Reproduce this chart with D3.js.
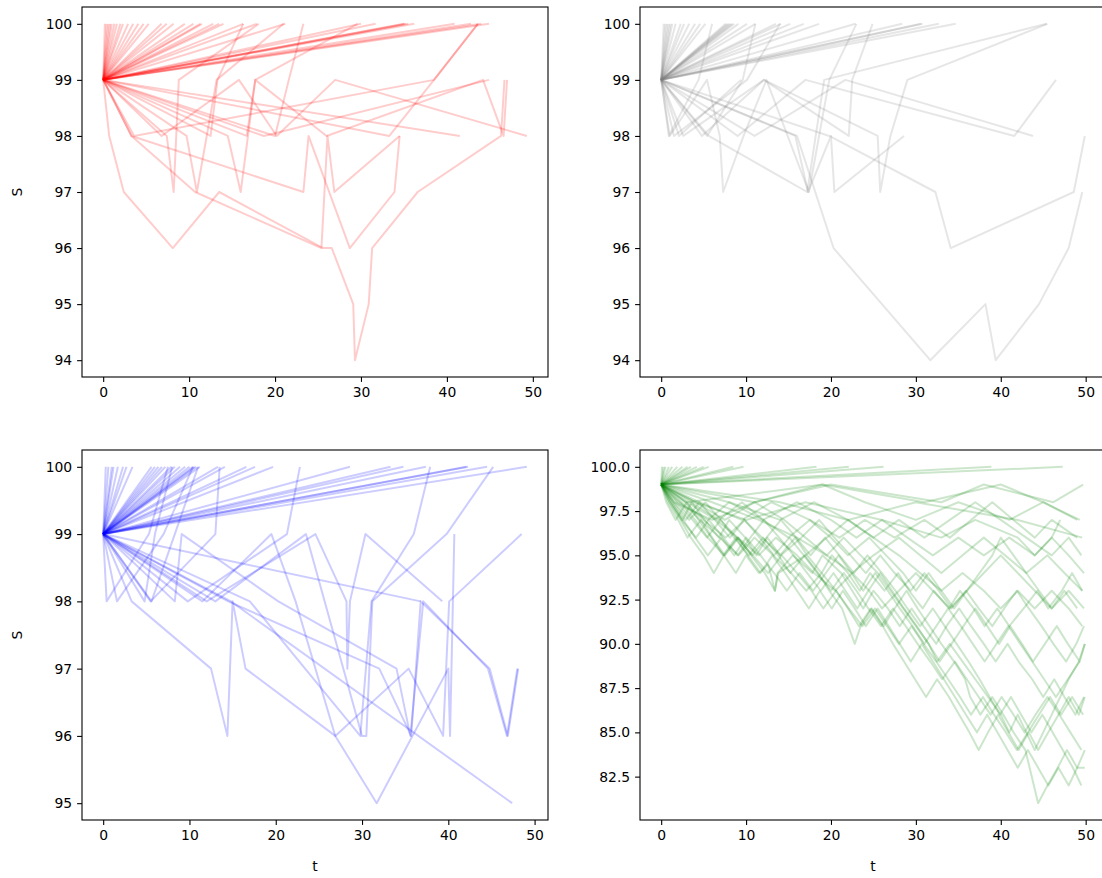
<!DOCTYPE html>
<html>
<head>
<meta charset="utf-8">
<script src="https://cdn.jsdelivr.net/npm/d3@7/dist/d3.min.js"></script>
<style>
  html, body { margin: 0; padding: 0; background: #fff; }
  svg { display: block; }
  text { font-family: "DejaVu Sans", sans-serif; }
</style>
</head>
<body>
<svg id="chart" width="1102" height="878"></svg>
<script>
// ---------------- DATA ----------------
const xTicks = [0, 10, 20, 30, 40, 50];
const yTicksTop = [94, 95, 96, 97, 98, 99, 100];
const yTicksBlue = [95, 96, 97, 98, 99, 100];
const yTicksGreen = [82.5, 85, 87.5, 90, 92.5, 95, 97.5, 100];

// single up-jump paths (0,99) -> (t,100): jump times
const redUpTimes = [0.2,0.4,0.6,0.8,1.0,1.3,1.6,2.0,2.3,2.9,3.5,4.1,4.7,5.3,6.8,7.4,8.2,9.5,10.5,11.3,11.5,12.8,13.5,14.0,16.3,17.9,21.2,30.0,31.7,35.0,35.2,35.5,36.2,40.9,42.8,44.0,44.9];
const greyUpTimes = [0.3,0.5,0.7,0.9,1.1,1.3,1.7,2.3,2.7,3.3,4.0,4.6,5.2,7.6,7.8,8.0,8.2,8.4,8.6,9.1,10.1,11.1,13.5,14.1,15.2,16.8,18.6,22.9,28.4,30.6,30.8,32.7,34.7];
const blueUpTimes = [0.3,0.6,1.0,1.2,1.7,2.3,2.7,3.4,5.6,6.0,6.4,6.8,7.2,7.9,8.3,8.9,9.5,10.0,10.4,10.6,10.8,11.2,13.3,14.1,16.6,17.6,19.7,28.6,33.3,34.8,37.4,42.1,42.3,44.5,49.1];
const greenUpTimes = [0.1,0.3,0.5,0.9,1.3,1.9,2.5,3.1,3.5,4.2,5.0,5.6,8.5,9.7,18.3,22.1,26.2,38.9,47.3];

// multi-step paths, [t, S] points
const redPaths = [
  [[0,99],[41.5,98]],
  [[0,99],[33.3,98],[38.5,99],[43.6,100]],
  [[0,99],[20.0,98],[21.6,99],[23.3,100]],
  [[0,99],[16.7,98],[17.7,99],[26.0,98],[44.2,99],[46.6,98],[47.0,99]],
  [[0,99],[12.5,98],[13.3,99],[16.3,100]],
  [[0,99],[3.3,98],[10.7,97],[25.4,96],[26.1,98],[26.9,97],[34.5,98]],
  [[0,99],[0.7,98],[2.4,97],[8.1,96],[13.5,97],[25.6,96],[26.6,96],[29.1,95],[29.3,94],[30.9,95],[31.3,96],[36.6,97],[46.3,98],[46.7,99]],
  [[0,99],[3.3,98],[23.3,97],[23.9,98],[28.7,96],[33.9,97],[34.5,98]],
  [[0,99],[7.4,98],[8.2,97],[8.8,99],[18.1,100]],
  [[0,99],[9.7,98],[10.9,97],[13.2,99],[21.0,100]],
  [[0,99],[14.5,98],[16.0,97],[17.7,99],[29.6,100]],
  [[0,99],[6.8,98],[15.8,99],[20.2,98],[27.0,99],[49.3,98]],
  [[0,99],[3.6,98],[38.5,99],[43.6,100]],
  [[0,99],[18.7,98],[44.9,99]]
];
const greyPaths = [
  [[0,99],[16.0,98],[20.3,96],[31.7,94],[38.2,95],[39.4,94],[44.5,95],[48.0,96],[49.6,97]],
  [[0,99],[15.8,98],[17.3,97],[20.0,98],[20.4,97],[28.6,98]],
  [[0,99],[1.0,98],[5.4,99],[6.9,98],[7.3,97],[9.7,98],[12.4,99],[17.4,97],[19.8,99],[23.0,100]],
  [[0,99],[2.1,98],[9.4,99]],
  [[0,99],[1.5,98],[10.1,99],[14.0,100]],
  [[0,99],[5.6,98],[17.2,97],[19.2,99],[45.4,100]],
  [[0,99],[2.6,98],[12.1,99],[25.5,98],[25.8,97],[27.0,98],[29.0,99],[45.5,100]],
  [[0,99],[4.8,98],[12.1,99],[22.1,98],[22.5,99],[24.9,100]],
  [[0,99],[9.0,98],[17.0,99],[41.6,98],[46.5,99]],
  [[0,99],[11.0,98],[21.7,99],[43.8,98]],
  [[0,99],[19.8,98],[32.3,97],[34.1,96],[48.6,97],[49.9,98]],
  [[0,99],[0.9,98],[4.4,99],[6.0,100]],
  [[0,99],[5.4,98],[9.6,99],[11.1,100]]
];
const bluePaths = [
  [[0,99],[3.3,98],[12.5,97],[14.4,96],[15.0,98],[16.5,97],[26.9,96],[35.4,97],[39.4,96],[40.1,98],[48.5,99]],
  [[0,99],[8.3,98],[9.1,99],[20.3,98],[34.0,97],[35.6,96],[37.1,98],[44.6,97],[46.8,96],[48.0,97]],
  [[0,99],[9.8,98],[21.3,99],[22.8,100]],
  [[0,99],[11.5,98],[19.5,99],[22.3,98],[26.9,96],[31.7,95],[40.0,97],[40.2,96],[40.7,99]],
  [[0,99],[12.0,98],[24.6,99],[28.2,98],[28.3,97],[28.6,98],[30.4,99],[39.3,98]],
  [[0,99],[13.0,98],[23.5,99],[30.0,96],[30.5,96],[31.2,98],[39.8,99],[45.2,100]],
  [[0,99],[14.5,98],[32.0,97],[35.7,96],[36.8,98],[44.8,97],[46.9,96],[48.1,97]],
  [[0,99],[36.8,98]],
  [[0,99],[5.5,98],[13.0,99],[13.5,100]],
  [[0,99],[1.6,98],[7.0,99],[10.4,100]],
  [[0,99],[0.4,98],[5.3,99],[7.5,100]],
  [[0,99],[4.8,98],[6.0,99],[8.0,100]],
  [[0,99],[5.6,98],[8.3,99],[11.0,100]],
  [[0,99],[17.0,98],[29.8,96],[31.1,98],[36.0,99],[37.9,100]],
  [[0,99],[14.8,98],[47.4,95]]
];
// green paths as flat t,S sequences
const greenPaths = [
  [0,99, 11,98, 20,99, 33,98, 38,99, 46.2,98, 49.7,99],
  [0,99, 3,98, 19,99, 31,98, 40,99, 45,98, 49,97],
  [0,99, 14,98, 22,97, 30,98, 42,97, 49.6,96],
  [0,99, 4,98, 10,97, 17,98, 26,97, 33,96, 37,97, 42,96, 44,95, 46,96, 47,97],
  [0,99, 1.2,98, 2.5,97, 3.6,98, 5.1,97, 6.8,96, 8.0,97, 9.9,96, 11.2,95, 12.5,96, 14.0,95, 15.8,96, 17.2,95, 18.9,94, 20.1,95, 22.0,94, 23.4,93, 24.6,94, 26.3,93, 27.9,94, 29.2,93, 30.8,92, 32.1,93, 33.9,92, 35.2,93, 36.8,92, 38.1,91, 39.6,92, 41.0,91, 42.7,92, 44.3,93, 45.6,92, 47.2,93, 48.4,94, 49.6,93],
  [0,99, 0.8,98, 2.0,97, 3.1,96, 4.7,97, 6.0,96, 7.5,95, 9.1,96, 10.6,95, 12.2,94, 13.4,93, 13.7,94, 15.5,95, 17.8,94, 19.0,95, 21.2,94, 22.5,93, 23.8,92, 25.0,93, 26.7,92, 28.1,91, 29.5,92, 30.9,91, 32.4,90, 33.6,91, 35.1,92, 36.5,91, 38.0,90, 39.4,89, 40.8,90, 42.1,89, 43.7,88, 45.0,87, 46.3,88, 47.5,87, 48.8,86, 49.8,87],
  [0,99, 1.5,98, 3.3,97, 5.2,98, 7.0,97, 8.6,96, 10.3,95, 12.0,96, 13.8,95, 15.2,94, 16.9,95, 18.5,94, 19.8,93, 21.3,92, 22.8,90, 23.5,91, 24.8,92, 26.2,91, 27.5,92, 28.9,93, 30.2,92, 31.6,91, 33.0,90, 34.5,89, 35.8,88, 36.4,87, 37.6,86, 39.0,87, 40.3,86, 41.5,85, 42.9,84, 44.4,81, 45.5,82, 46.7,83, 47.8,84, 49.0,83, 49.9,83],
  [0,99, 2.2,98, 4.0,97, 5.5,96, 7.4,95, 9.0,96, 10.7,95, 12.4,96, 14.1,97, 15.9,96, 17.6,95, 19.3,96, 21.0,95, 22.7,94, 24.3,95, 26.0,94, 27.6,93, 29.0,92, 30.5,91, 32.0,92, 33.4,91, 34.8,90, 36.2,89, 37.5,88, 38.7,87, 39.9,86, 41.2,87, 42.4,86, 43.6,85, 44.9,86, 46.1,85, 47.3,84, 48.5,83, 49.5,82],
  [0,99, 3.5,98, 6.8,97, 9.5,98, 12.0,97, 15.0,96, 17.5,97, 20.0,96, 22.0,95, 24.5,96, 26.5,95, 28.5,94, 30.0,93, 31.5,94, 33.0,93, 34.5,92, 36.0,93, 37.5,94, 39.0,95, 40.0,96, 41.5,95, 43.0,94, 44.5,93, 46.0,92, 47.5,93, 49.0,92],
  [0,99, 4.5,98, 9.5,97, 13.0,98, 17.5,97, 21.0,96, 24.0,97, 27.5,96, 31.0,97, 34.0,96, 36.5,97, 39.0,98, 41.5,97, 44.0,96, 46.0,97, 49.0,96],
  [0,99, 1.0,98, 2.4,97, 4.1,96, 5.6,97, 7.3,96, 9.0,95, 10.5,96, 12.1,97, 13.9,96, 15.6,95, 17.2,94, 18.8,93, 20.3,94, 21.7,93, 23.1,92, 24.4,93, 25.8,94, 27.2,93, 28.6,92, 30.1,91, 31.5,90, 32.8,89, 34.2,90, 35.6,91, 37.0,92, 38.4,91, 39.8,90, 41.1,91, 42.5,90, 43.8,89, 45.2,90, 46.6,91, 47.9,90, 49.3,89, 49.9,90],
  [0,99, 6.0,98, 11.5,97, 16.0,96, 19.5,95, 22.5,94, 25.0,95, 28.0,96, 30.5,95, 33.0,94, 35.5,95, 38.0,96, 40.5,95, 43.0,94, 45.5,95, 47.5,94, 49.6,93],
  [0,99, 1.8,98, 3.7,97, 5.4,96, 7.0,97, 8.9,96, 10.8,95, 12.6,94, 14.2,95, 16.0,94, 17.7,93, 19.1,92, 20.6,93, 22.0,92, 23.3,91, 24.7,92, 26.1,91, 27.3,90, 28.6,89, 29.9,88, 31.2,87, 32.5,88, 33.9,87, 35.1,86, 36.3,85, 37.4,84, 38.5,85, 39.7,86, 40.9,85, 42.1,84, 43.3,85, 44.4,84, 45.6,85, 46.8,86, 48.0,87, 49.2,86, 49.9,87],
  [0,99, 2.8,98, 5.0,97, 7.6,96, 9.8,97, 11.9,96, 14.1,95, 16.5,96, 18.6,97, 20.4,96, 22.3,95, 24.1,94, 25.8,95, 27.5,94, 29.4,93, 31.0,94, 32.7,93, 34.2,92, 35.9,93, 37.4,92, 39.0,91, 40.4,92, 41.9,93, 43.3,92, 44.8,91, 46.2,90, 47.7,89, 48.9,90, 49.8,91],
  [0,99, 1.0,98, 2.3,97, 3.5,96, 5.0,95, 6.2,94, 7.4,95, 8.8,94, 10.0,95, 11.5,94, 12.6,94.5, 13.4,93, 13.8,94, 17.0,95, 19.5,96, 22.0,97, 25.0,96, 28.0,97, 31.0,96, 34.0,97, 37.0,98, 40.0,97, 43.0,96, 46.0,95, 48.0,96, 49.5,95],
  [0,99, 4.0,98, 7.5,97, 11.0,98, 14.5,97, 17.0,96, 19.5,95, 21.5,96, 23.5,95, 25.5,94, 27.0,93, 28.5,92, 30.0,91, 31.5,90, 32.5,89, 34.0,90, 35.5,89, 37.0,88, 38.5,87, 40.0,86, 41.0,85, 42.0,86, 43.0,85, 44.0,84, 45.0,85, 46.0,86, 47.0,87, 48.0,88, 49.2,89, 49.9,90],
  [0,99, 1.4,98, 2.9,97, 4.5,98, 6.3,97, 8.1,96, 9.8,97, 11.6,96, 13.3,95, 15.1,96, 16.8,95, 18.4,94, 20.0,93, 21.5,94, 23.0,93, 24.4,92, 25.9,91, 27.3,92, 28.8,91, 30.2,90, 31.7,89, 33.1,88, 34.6,89, 36.0,88, 37.4,87, 38.8,86, 40.1,87, 41.5,86, 42.8,85, 44.1,86, 45.5,87, 46.9,86, 48.2,85, 49.5,84],
  [0,99, 8.0,98, 14.0,97, 18.0,98, 22.0,97, 25.0,96, 28.0,95, 30.5,94, 33.0,93, 35.5,94, 38.0,93, 40.0,92, 42.0,93, 44.0,92, 46.0,93, 48.0,92, 49.6,91],
  [0,99, 0.6,98, 1.7,97, 3.0,98, 4.4,97, 5.9,96, 7.3,95, 8.8,96, 10.2,95, 11.7,94, 13.1,95, 14.6,94, 16.0,93, 17.4,92, 18.7,93, 20.1,92, 21.4,93, 22.8,92, 24.1,91, 25.5,92, 26.8,91, 28.1,90, 29.4,89, 30.7,90, 32.0,89, 33.3,88, 34.6,87, 35.9,86, 37.2,85, 38.4,86, 39.6,85, 40.8,84, 42.0,83, 43.2,84, 44.4,83, 45.6,82, 46.8,83, 48.0,82, 49.0,83, 49.9,84],
  [0,99, 2.0,98, 5.5,97, 8.0,98, 12.0,97, 16.0,98, 20.0,97, 23.0,96, 26.0,97, 29.0,96, 32.0,95, 35.0,96, 38.0,95, 41.0,96, 44.0,95, 46.0,96, 48.0,95, 49.8,94],
  [0,99, 1.2,98, 2.6,97, 4.0,96, 5.5,95, 7.1,96, 8.6,95, 10.0,96, 11.7,95, 13.3,94, 14.8,93, 16.3,94, 17.9,93, 19.4,94, 20.9,95, 22.4,94, 23.8,93, 25.2,94, 26.7,93, 28.1,92, 29.6,91, 31.0,90, 32.4,91, 33.8,92, 35.3,91, 36.7,90, 38.1,89, 39.5,90, 40.9,91, 42.3,90, 43.7,89, 45.1,88, 46.5,87, 47.9,88, 49.3,89],
  [0,99, 1.5,98, 6.0,97, 11.0,98, 19.0,99, 24.0,98, 30.0,97, 35.0,98, 41.0,97, 45.0,98, 49.3,97],
  [0,99, 2.4,98, 4.6,97, 6.9,96, 9.1,95, 11.0,96, 13.2,95, 15.3,94, 17.1,93, 18.9,94, 20.6,93, 22.1,92, 23.7,91, 25.2,92, 26.6,91, 28.0,90, 29.5,91, 30.9,90, 32.4,89, 33.8,88, 35.2,87, 36.5,86, 37.9,87, 39.2,86, 40.6,85, 41.9,84, 43.2,85, 44.5,86, 45.8,87, 47.1,86, 48.4,87, 49.7,86],
  [0,99, 3.0,98, 6.5,97, 9.0,96, 11.5,95, 13.5,96, 16.0,95, 18.0,94, 20.5,93, 22.5,94, 24.5,93, 26.0,92, 28.0,93, 30.0,94, 32.0,93, 34.0,92, 36.0,93, 38.0,94, 40.0,95, 42.0,94, 44.0,93, 46.0,92, 48.0,93, 49.8,92]
];

// ---------------- RENDER ----------------
const svg = d3.select("#chart");
svg.append("rect").attr("width", 1102).attr("height", 878).attr("fill", "#fff");

const fontPx = 13.9, tickLen = 4.9, tickPad = 4.9;

function upToPaths(times) { return times.map(t => [[0, 99], [t, 100]]); }
function flatToPaths(list) {
  return list.map(a => { const p = []; for (let i = 0; i < a.length; i += 2) p.push([a[i], a[i + 1]]); return p; });
}

const panels = [
  { id: "tl", x0: 82, x1: 548, y0: 7, y1: 377, color: "#ff0000", opacity: 0.2,
    paths: upToPaths(redUpTimes).concat(redPaths), yTicks: yTicksTop, fmt: d3.format("d"), ylabel: true, xlabel: false },
  { id: "tr", x0: 640, x1: 1106, y0: 7, y1: 377, color: "#808080", opacity: 0.2,
    paths: upToPaths(greyUpTimes).concat(greyPaths), yTicks: yTicksTop, fmt: d3.format("d"), ylabel: false, xlabel: false },
  { id: "bl", x0: 82, x1: 548, y0: 450, y1: 820, color: "#0000ff", opacity: 0.2,
    paths: upToPaths(blueUpTimes).concat(bluePaths), yTicks: yTicksBlue, fmt: d3.format("d"), ylabel: true, xlabel: true },
  { id: "br", x0: 640, x1: 1106, y0: 450, y1: 820, color: "#008000", opacity: 0.2,
    paths: upToPaths(greenUpTimes).concat(flatToPaths(greenPaths)), yTicks: yTicksGreen, fmt: d3.format(".1f"), ylabel: false, xlabel: true }
];

function padded(ext) { const r = ext[1] - ext[0]; return [ext[0] - 0.05 * r, ext[1] + 0.05 * r]; }

panels.forEach(p => {
  const all = p.paths.flat();
  const x = d3.scaleLinear().domain(padded(d3.extent(all, d => d[0]))).range([p.x0, p.x1]);
  const y = d3.scaleLinear().domain(padded(d3.extent(all, d => d[1]))).range([p.y1, p.y0]);

  const g = svg.append("g");
  svg.append("defs").append("clipPath").attr("id", "clip-" + p.id)
    .append("rect").attr("x", p.x0).attr("y", p.y0).attr("width", p.x1 - p.x0).attr("height", p.y1 - p.y0);

  const line = d3.line().x(d => x(d[0])).y(d => y(d[1]));
  g.append("g").attr("clip-path", "url(#clip-" + p.id + ")")
    .selectAll("path").data(p.paths).join("path")
    .attr("d", line).attr("fill", "none")
    .attr("stroke", p.color).attr("stroke-opacity", p.opacity)
    .attr("stroke-width", 2).attr("stroke-linejoin", "round").attr("stroke-linecap", "butt");

  // axes
  const xAxis = d3.axisBottom(x).tickValues(xTicks).tickFormat(d3.format("d"))
    .tickSizeInner(tickLen).tickSizeOuter(0).tickPadding(tickPad);
  const yAxis = d3.axisLeft(y).tickValues(p.yTicks).tickFormat(p.fmt)
    .tickSizeInner(tickLen).tickSizeOuter(0).tickPadding(tickPad);

  const gx = g.append("g").attr("transform", `translate(0,${p.y1})`).call(xAxis);
  const gy = g.append("g").attr("transform", `translate(${p.x0},0)`).call(yAxis);
  [gx, gy].forEach(a => {
    a.select(".domain").remove();
    a.selectAll(".tick line").attr("stroke", "#000").attr("stroke-width", 1.1);
    a.selectAll(".tick text").attr("fill", "#000").style("font-size", fontPx + "px")
      .style("font-family", "'DejaVu Sans', sans-serif");
  });

  // frame
  g.append("rect").attr("x", p.x0).attr("y", p.y0)
    .attr("width", p.x1 - p.x0).attr("height", p.y1 - p.y0)
    .attr("fill", "none").attr("stroke", "#000").attr("stroke-width", 1.1);

  if (p.ylabel) {
    g.append("text").attr("transform", `translate(22,${(p.y0 + p.y1) / 2}) rotate(-90)`)
      .attr("text-anchor", "middle").style("font-size", fontPx + "px").attr("fill", "#000").text("S");
  }
  if (p.xlabel) {
    g.append("text").attr("x", (p.x0 + p.x1) / 2).attr("y", 871)
      .attr("text-anchor", "middle").style("font-size", fontPx + "px").attr("fill", "#000").text("t");
  }
});
</script>
</body>
</html>
